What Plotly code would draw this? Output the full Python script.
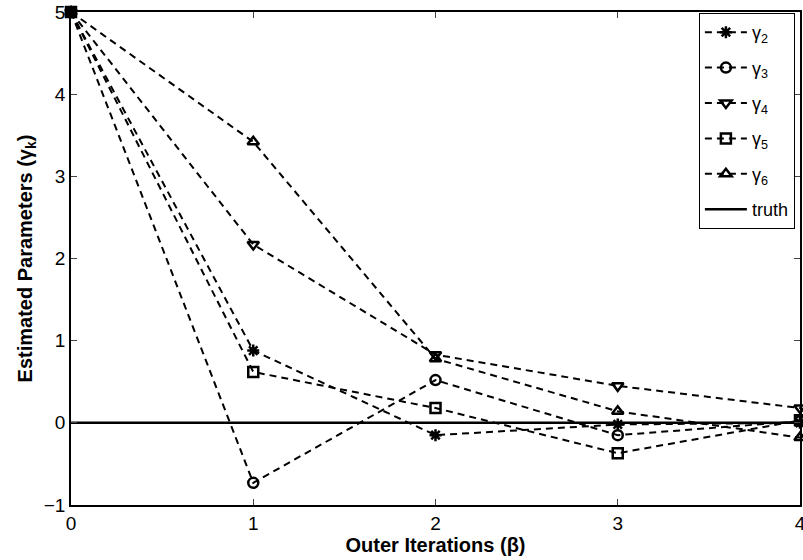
import plotly.graph_objects as go

iterations = [0, 1, 2, 3, 4]
gamma2 = [5.0, 0.88, -0.15, -0.02, 0.0]
gamma3 = [5.0, -0.73, 0.52, -0.15, 0.02]
gamma4 = [5.0, 2.17, 0.83, 0.45, 0.18]
gamma5 = [5.0, 0.62, 0.18, -0.37, 0.03]
gamma6 = [5.0, 3.42, 0.78, 0.14, -0.18]
truth = [0, 0, 0, 0, 0]

series = [
    ("γ<sub>2</sub>", gamma2, "asterisk-open"),
    ("γ<sub>3</sub>", gamma3, "circle-open"),
    ("γ<sub>4</sub>", gamma4, "triangle-down-open"),
    ("γ<sub>5</sub>", gamma5, "square-open"),
    ("γ<sub>6</sub>", gamma6, "triangle-up-open"),
]

fig = go.Figure()
for i, (name, vals, sym) in enumerate(series):
    fig.add_trace(go.Scatter(
        x=iterations, y=vals, name=name, mode="lines+markers", legendgroup=f"g{i}",
        line=dict(color="black", width=2, dash="7px,5px"),
        marker=dict(symbol=sym, size=10, color="black", line=dict(color="black", width=2.5)),
        cliponaxis=False,
    ))
fig.add_trace(go.Scatter(
    x=iterations, y=truth, name="truth", mode="lines", legendgroup="truth",
    line=dict(color="black", width=2.5),
))

font = "Liberation Sans, Arial, Helvetica, sans-serif"
fig.update_layout(
    width=803, height=560,
    margin=dict(l=71, r=3, t=12, b=55, autoexpand=False),
    plot_bgcolor="white", paper_bgcolor="white",
    font=dict(family=font, size=19, color="black"),
    showlegend=True,
    legend=dict(
        x=0.993, y=0.998, xanchor="right", yanchor="top",
        bordercolor="black", borderwidth=1, bgcolor="white",
        font=dict(size=18), itemwidth=42, tracegroupgap=9,
    ),
    xaxis=dict(
        range=[0, 4], tickvals=[0, 1, 2, 3, 4], ticks="inside", ticklen=6,
        tickfont=dict(size=19), ticklabeloverflow="allow",
        showline=True, linecolor="black", linewidth=1.5, mirror="ticks",
        showgrid=False, zeroline=False, automargin=False,
        title=dict(text="<b>Outer Iterations (β)</b>", font=dict(size=20), standoff=4),
    ),
    yaxis=dict(
        range=[-1, 5], tickvals=[-1, 0, 1, 2, 3, 4, 5],
        ticktext=["−1", "0", "1", "2", "3", "4", "5"],
        ticks="inside", ticklen=6, tickfont=dict(size=19), ticklabeloverflow="allow",
        showline=True, linecolor="black", linewidth=1.5, mirror="ticks",
        showgrid=False, zeroline=False, automargin=False,
        title=dict(text="<b>Estimated Parameters (γ<sub>k</sub>)</b>", font=dict(size=20), standoff=6),
    ),
)

fig.write_html("out.html")
